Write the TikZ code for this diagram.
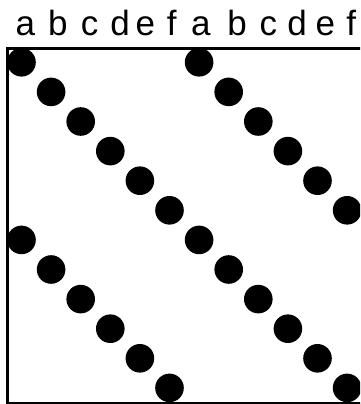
\documentclass[tikz,border=0pt]{standalone}
\usepackage{fontspec}
\setmainfont{Liberation Sans}
\begin{document}
\begin{tikzpicture}[x=1pt,y=-1pt,
  dot/.style={circle,fill=black,draw=none,minimum size=28.6pt,inner sep=0pt},
  lbl/.style={anchor=base,inner sep=0pt,font=\fontsize{35}{40}\selectfont},
  frame/.style={draw=black,line width=2.5pt}]
\useasboundingbox (0,0) rectangle (360,404);
\clip (0,0) rectangle (360,404);
\draw[frame] (7.5,48.5) rectangle (363,403.5);
% column labels
\foreach \x/\t [count=\i] in {25.3/a,57.8/b,89.5/c,120/d,145.3/e,171.7/f,200.8/a,237/b,268.3/c,297/d,325.3/e,351.3/f}
  \node[lbl] (l\i) at (\x,36) {\t};
% main diagonal
\foreach \k in {0,...,11}
  \node[dot] (m\k) at ({21.5+29.6*\k},{62.3+29.6*\k}) {};
% upper diagonal
\foreach \k in {0,...,5}
  \node[dot] (u\k) at ({21.5+29.6*(\k+6)},{62.3+29.6*\k}) {};
% lower diagonal
\foreach \k in {0,...,5}
  \node[dot] (w\k) at ({21.5+29.6*\k},{62.3+29.6*(\k+6)}) {};
\end{tikzpicture}
\end{document}
